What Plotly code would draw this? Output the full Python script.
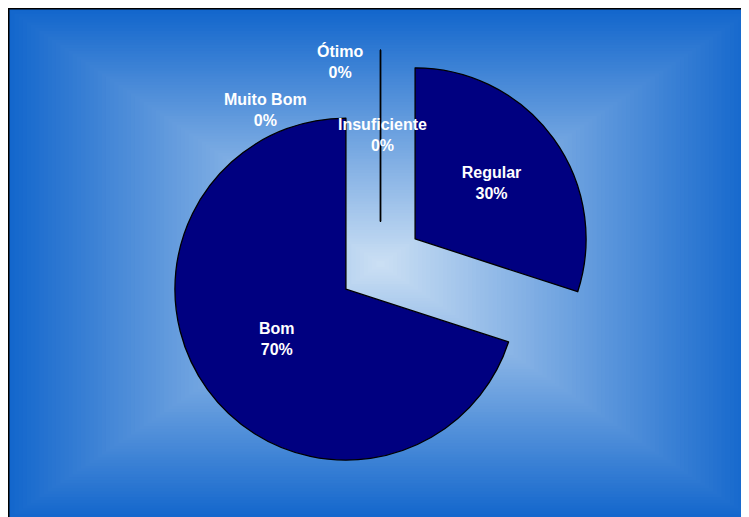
import plotly.graph_objects as go

# ---- data ----
categories = ["Ótimo", "Muito Bom", "Bom", "Regular", "Insuficiente"]
values = [0, 0, 70, 30, 0]
zero_labels = ["Ótimo<br>0%", "Muito Bom<br>0%", "Insuficiente<br>0%"]

OFF = 8.0                       # page body margin
W, H = 760, 530                 # a bit larger than the window; overflow is hidden
cx, cy = 380.5 - OFF, 264.0 - OFF   # pie centre (px, figure coords)
pull = 0.25
box = 427.5                     # pie domain size (px)
FONT = "Liberation Sans, Arial, sans-serif"
FS = 16

def px(x):
    return x / W

def py(y):
    return 1 - y / H

fig = go.Figure()
fig.add_trace(go.Pie(
    labels=categories,
    values=values,
    sort=False,
    direction="counterclockwise",
    rotation=0,
    pull=[pull] * len(values),
    marker=dict(colors=["#000080"] * len(values), line=dict(color="#000000", width=1.3)),
    texttemplate="<b>%{label}</b><br><b>%{percent:.0%}</b>",
    textposition=["none" if v == 0 else "inside" for v in values],
    insidetextorientation="horizontal",
    insidetextfont=dict(family=FONT, size=FS, color="white"),
    domain=dict(x=[px(cx - box / 2), px(cx + box / 2)], y=[py(cy + box / 2), py(cy - box / 2)]),
    showlegend=False,
    hoverinfo="label+percent",
))

# ---- rectangular "from centre" gradient background ----
shapes = []
edge = (18, 102, 204)
centre = (204, 224, 244)
x0, y0 = 6.0 - OFF, 8.0 - OFF
hw, hh = cx - x0, cy - y0
N = 90
for i in range(N):
    t = i / N
    c = tuple(round(edge[k] + (centre[k] - edge[k]) * t) for k in range(3))
    w = hw * (1 - t)
    h = hh * (1 - t)
    shapes.append(dict(type="rect", xref="paper", yref="paper", layer="below",
                       x0=px(cx - w), x1=px(cx + w), y0=py(cy + h), y1=py(cy - h),
                       line=dict(width=0), fillcolor="rgb(%d,%d,%d)" % c))
# frame (top and left edges visible)
shapes.append(dict(type="line", xref="paper", yref="paper", layer="below",
                   x0=px(0), x1=px(W + 5), y0=py(0.5), y1=py(0.5),
                   line=dict(color="black", width=2)))
shapes.append(dict(type="line", xref="paper", yref="paper", layer="below",
                   x0=px(0.5), x1=px(0.5), y0=py(0), y1=py(H + 5),
                   line=dict(color="black", width=2)))

# labels for zero-value slices (screen positions)
label_pos = [(340, 62), (265, 110), (382, 135)]
annotations = []
for txt, (lx, ly) in zip(zero_labels, label_pos):
    annotations.append(dict(text="<b>" + txt + "</b>", x=px(lx - OFF), y=py(ly - OFF),
                            xref="paper", yref="paper",
                            showarrow=False, xanchor="center", yanchor="middle",
                            font=dict(family=FONT, size=FS, color="white")))

fig.update_layout(
    width=W, height=H,
    margin=dict(l=0, r=0, t=0, b=0),
    paper_bgcolor="rgb(18,102,204)",
    plot_bgcolor="white",
    shapes=shapes,
    annotations=annotations,
)
fig.write_html(
    "out.html",
    post_script="document.documentElement.style.overflow='hidden';document.body.style.overflow='hidden';",
)
